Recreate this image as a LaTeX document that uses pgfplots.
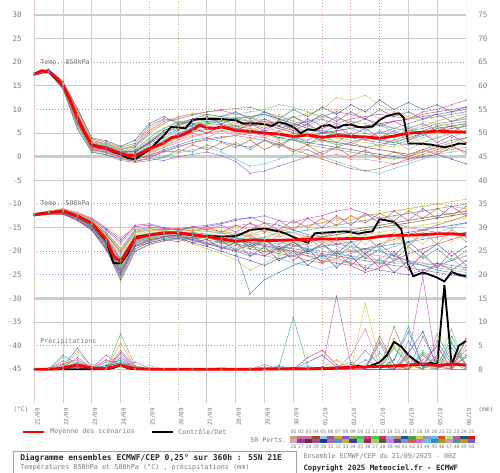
\documentclass[border=0pt]{standalone}
\usepackage{fontspec}
\setmainfont{DejaVu Sans Mono}
\usepackage{pgfplots}
\pgfplotsset{compat=1.18}
\usepackage{pgfplotstable}
\newcommand{\fs}[1]{\fontsize{#1}{#1}\selectfont}
\definecolor{gridgray}{RGB}{200,206,200}
\definecolor{txtgray}{RGB}{125,125,125}
\definecolor{dotpurple}{RGB}{175,140,190}
\definecolor{dotpink}{RGB}{240,160,160}
\definecolor{dotblue}{RGB}{140,150,235}
\definecolor{dotgreen}{RGB}{150,215,150}
\definecolor{m1}{RGB}{60,180,75}
\definecolor{m2}{RGB}{70,110,230}
\definecolor{m3}{RGB}{200,80,200}
\definecolor{m4}{RGB}{230,160,40}
\definecolor{m5}{RGB}{90,200,220}
\definecolor{m6}{RGB}{150,90,200}
\definecolor{m7}{RGB}{200,200,60}
\definecolor{m8}{RGB}{210,60,90}
\definecolor{m9}{RGB}{120,170,80}
\definecolor{m10}{RGB}{100,140,220}
\definecolor{m11}{RGB}{180,120,80}
\definecolor{m12}{RGB}{140,100,220}
\definecolor{m13}{RGB}{60,160,160}
\definecolor{m14}{RGB}{230,120,170}
\definecolor{m15}{RGB}{120,200,120}
\definecolor{m16}{RGB}{80,80,180}
\definecolor{m17}{RGB}{200,100,60}
\definecolor{m18}{RGB}{190,200,80}
\definecolor{m19}{RGB}{160,90,140}
\definecolor{m20}{RGB}{70,120,200}
\definecolor{m21}{RGB}{230,80,40}
\definecolor{m22}{RGB}{100,200,180}
\definecolor{m23}{RGB}{180,60,180}
\definecolor{m24}{RGB}{90,150,90}
\definecolor{m25}{RGB}{240,190,90}
\definecolor{m26}{RGB}{110,80,160}
\definecolor{m27}{RGB}{220,140,140}
\definecolor{m28}{RGB}{60,100,160}
\definecolor{m29}{RGB}{170,210,120}
\definecolor{m30}{RGB}{200,60,120}

% T850 members (degC)
\pgfplotstableread{
h a1 a2 a3 a4 a5 a6 a7 a8 a9 a10 a11 a12 a13 a14 a15 a16 a17 a18 a19 a20 a21 a22 a23 a24 a25 a26 a27 a28 a29 a30
0 17.5 17.4 17.6 17.5 17.3 17.7 17.5 17.4 17.6 17.5 17.5 17.3 17.6 17.4 17.5 17.6 17.5 17.4 17.3 17.6 17.4 17.6 17.5 17.3 17.6 17.5 17.4 17.7 17.5 17.4
12 18.2 18.0 18.4 18.1 17.9 18.5 18.2 18.0 18.3 18.1 18.4 17.8 18.2 18.0 18.3 18.1 18.2 17.9 18.0 18.4 18.0 18.3 18.1 17.9 18.4 18.2 18.0 18.5 18.1 18.0
24 15.0 14.6 15.5 15.2 14.4 15.8 14.9 15.1 15.4 14.7 15.6 14.3 15.2 14.8 15.3 15.0 14.5 15.7 14.9 15.1 14.7 15.4 15.0 14.4 15.6 15.1 14.6 15.9 15.2 14.8
36 8.5 7.2 9.6 8.0 6.5 10.0 7.8 8.8 9.1 7.0 9.4 5.8 8.2 7.5 9.0 8.3 6.8 9.8 7.6 8.6 7.0 9.2 8.0 6.0 9.6 8.4 7.2 10.2 8.6 7.4
48 2.5 1.8 3.2 2.2 1.2 3.8 2.0 2.8 3.0 1.6 3.4 1.0 2.4 1.9 2.9 2.6 1.4 3.5 2.1 2.7 1.5 3.0 2.2 0.9 3.6 2.6 1.7 4.0 2.8 2.0
60 1.9 1.2 2.6 1.5 0.8 3.0 1.6 2.2 2.4 1.0 2.8 0.5 1.8 1.3 2.3 2.0 0.9 2.7 1.4 2.1 1.0 2.5 1.7 0.4 3.2 2.2 1.0 3.4 2.4 1.5
72 0.6 0.2 1.5 0.4 -0.3 2.0 0.5 1.1 1.3 -0.1 1.7 -0.5 0.8 0.3 1.2 0.9 0.0 1.6 0.4 1.0 -0.2 1.4 0.5 -0.8 1.8 1.0 0.0 2.2 1.2 0.5
84 0.4 -0.6 2.2 0.1 -0.9 2.8 0.3 1.0 1.5 -0.4 2.0 -1.0 0.6 -0.2 1.3 0.8 -0.7 2.4 0.0 1.1 -1.0 2.5 0.2 -1.2 3.0 1.2 -0.5 3.5 1.8 0.3
96 2.5 0.2 5.5 1.0 -0.5 6.5 1.5 3.0 4.0 0.0 5.0 -0.4 2.0 0.8 3.5 2.8 0.4 6.0 1.2 3.2 -0.2 4.5 1.5 -0.8 5.8 3.0 0.5 7.0 3.8 1.5
108 4.0 1.5 7.5 2.5 0.0 8.0 3.0 5.0 6.0 1.0 7.0 -0.8 3.5 2.0 5.5 4.5 1.2 7.8 2.8 5.2 1.2 6.0 3.2 -0.2 7.0 5.5 2.0 8.5 5.0 3.0
120 5.5 2.5 8.0 3.5 0.8 7.5 4.5 6.5 7.2 2.0 8.5 0.0 5.0 3.0 6.8 5.8 2.2 8.2 4.0 6.0 1.0 7.5 4.8 1.5 6.0 6.8 3.5 7.0 6.5 4.5
132 6.8 3.5 8.8 4.5 1.5 7.0 5.5 7.8 8.0 3.0 9.0 0.5 6.2 4.2 7.5 6.5 3.0 9.2 5.2 7.0 2.5 6.5 6.0 1.0 7.5 7.5 5.0 8.0 5.5 6.0
144 7.2 4.0 9.5 5.0 2.0 6.5 6.0 8.2 7.5 3.5 9.5 1.0 7.0 5.0 8.0 7.0 3.8 8.8 5.8 7.5 1.5 8.0 5.0 2.5 6.5 8.5 4.0 9.0 7.0 5.0
156 7.8 3.2 9.8 5.5 1.0 6.0 6.5 8.5 7.0 4.0 10.0 0.2 7.5 5.5 8.5 6.8 4.2 8.0 6.2 7.8 3.0 7.0 6.5 1.5 8.0 7.0 5.5 8.5 6.0 6.5
168 6.5 2.5 9.0 6.0 -0.5 5.5 7.0 8.0 6.5 4.5 10.2 -1.0 8.0 5.0 9.0 6.0 4.5 7.5 6.5 8.2 2.0 8.5 5.5 3.0 7.0 8.0 4.5 9.5 7.5 5.5
180 5.0 2.0 8.5 6.5 -2.0 5.0 7.5 7.5 6.0 5.0 10.5 -3.5 8.5 4.5 9.5 5.5 4.0 7.0 7.0 8.5 3.5 7.5 7.0 1.5 8.5 6.5 6.0 8.0 5.5 7.0
192 5.5 3.5 7.0 7.0 -1.5 4.5 8.0 7.0 5.5 5.5 9.5 -3.0 9.0 4.0 10.0 5.0 3.5 6.5 7.5 9.0 1.5 9.0 6.0 3.5 7.0 8.0 4.0 9.5 7.0 5.5
204 4.0 2.5 7.5 6.5 -0.5 5.5 7.0 6.0 3.5 6.0 8.5 -2.0 8.0 3.0 11.0 4.0 2.5 7.5 6.5 8.0 3.0 7.5 7.5 2.0 9.0 6.5 5.5 8.0 5.0 7.5
216 4.5 4.0 6.0 5.0 0.5 6.5 6.0 5.0 3.5 7.0 7.5 -1.0 7.0 1.5 10.5 3.5 1.5 8.5 5.5 7.0 1.0 8.5 5.5 4.0 7.5 8.5 3.5 10.0 7.0 6.0
228 3.0 3.5 5.5 4.5 1.5 7.5 5.0 4.5 2.5 7.5 6.5 0.0 6.0 1.5 9.5 3.0 0.5 9.0 4.5 6.0 2.5 6.5 7.0 2.5 9.5 7.0 5.0 8.5 4.5 8.0
240 3.5 5.0 6.0 3.5 0.0 8.5 4.5 5.0 2.0 8.0 5.5 1.0 5.5 0.0 8.5 2.5 -0.5 10.0 3.5 5.0 0.5 8.0 5.0 4.5 8.0 9.0 3.0 10.5 6.5 6.5
252 2.5 5.5 7.0 3.0 -1.0 9.5 4.0 5.5 1.5 7.0 5.0 2.0 5.0 0.5 8.0 2.0 -1.5 12.5 3.0 4.5 2.0 6.0 6.5 3.0 10.0 7.5 4.5 9.0 4.0 8.5
264 3.0 6.0 8.0 2.5 -2.0 9.0 3.5 6.0 1.0 6.0 4.5 3.0 4.5 -0.5 7.5 1.5 -2.5 12.0 2.5 4.0 0.0 7.5 4.5 5.0 8.5 9.5 2.5 11.0 6.0 7.0
276 2.0 6.5 8.5 2.0 -3.0 8.0 3.0 6.5 0.5 5.0 4.0 4.0 4.0 -0.5 7.0 1.0 -3.0 13.0 2.0 3.5 1.5 5.5 6.0 3.5 10.0 8.0 4.0 9.5 3.5 8.0
288 2.5 7.0 9.0 1.5 -3.5 7.0 2.5 7.0 0.0 4.0 3.5 5.0 3.5 -1.0 6.5 0.5 -2.5 11.0 1.5 3.0 -0.5 7.0 4.0 5.5 8.0 10.0 2.0 12.0 5.5 6.5
300 3.5 7.5 8.5 1.0 -2.5 6.0 2.0 7.5 -0.5 3.0 3.0 6.0 3.0 -1.5 6.0 0.0 -1.5 9.5 1.0 2.5 1.0 5.0 5.5 4.0 9.5 8.5 3.5 10.0 3.0 7.5
312 4.5 8.0 8.0 0.5 -1.5 5.5 3.0 8.0 0.0 2.5 4.0 7.0 4.0 -1.0 5.5 -0.5 -0.5 8.5 0.5 3.5 0.0 6.5 3.5 6.0 8.0 9.5 1.5 11.5 5.0 6.0
324 5.5 8.5 9.5 1.0 -0.5 6.0 4.0 9.0 1.0 3.0 5.0 8.0 5.0 0.0 6.5 0.0 0.5 7.5 1.5 4.5 1.5 4.5 5.0 4.5 9.0 8.0 3.0 10.0 2.5 7.0
336 6.5 9.0 10.0 2.0 0.5 7.0 5.0 9.5 2.0 4.0 6.0 8.5 6.0 1.0 7.5 0.5 1.5 7.0 2.5 5.5 0.5 6.0 3.0 6.5 7.5 9.0 1.0 11.0 4.5 5.5
348 7.0 9.5 11.0 2.5 1.0 7.5 6.0 10.0 3.0 5.0 6.5 9.0 6.5 1.5 8.5 -0.5 2.5 6.5 3.5 6.0 2.0 4.0 4.5 5.0 8.5 7.5 2.5 9.5 2.0 6.5
360 7.5 10.0 12.0 3.0 1.5 8.0 6.5 10.5 4.0 5.5 7.0 9.5 7.0 2.0 9.0 -1.5 3.0 6.0 4.0 6.5 1.0 5.5 3.0 7.0 7.0 8.5 0.5 10.5 4.0 5.0
}\tA

% T500 members (degC)
\pgfplotstableread{
h b1 b2 b3 b4 b5 b6 b7 b8 b9 b10 b11 b12 b13 b14 b15 b16 b17 b18 b19 b20 b21 b22 b23 b24 b25 b26 b27 b28 b29 b30
0 -12.3 -12.1 -12.4 -12.2 -12.3 -12.0 -12.5 -12.2 -12.3 -12.1 -12.4 -12.2 -12.3 -12.1 -12.2 -12.4 -12.3 -12.0 -12.2 -12.3 -12.2 -12.4 -12.1 -12.3 -12.0 -12.4 -12.2 -12.3 -12.1 -12.5
12 -11.9 -11.6 -12.1 -11.8 -11.9 -11.5 -12.2 -11.8 -11.9 -11.7 -12.0 -11.8 -11.9 -11.6 -11.8 -12.0 -11.9 -11.5 -11.8 -11.9 -11.8 -12.0 -11.6 -11.9 -11.5 -12.1 -11.8 -11.9 -11.7 -12.2
24 -11.6 -11.2 -12.0 -11.4 -11.8 -11.0 -12.2 -11.5 -11.7 -11.3 -11.9 -11.6 -11.5 -11.1 -11.6 -12.1 -11.7 -11.2 -11.4 -11.8 -11.4 -11.9 -11.1 -11.7 -11.0 -12.0 -11.5 -11.8 -11.3 -12.2
36 -12.8 -12.2 -13.2 -12.4 -13.0 -11.8 -13.5 -12.6 -12.9 -12.3 -13.1 -12.7 -12.5 -12.0 -12.8 -13.4 -12.9 -12.1 -12.5 -13.0 -12.3 -13.1 -12.0 -12.8 -11.9 -13.3 -12.6 -12.9 -12.2 -13.5
48 -14.5 -13.5 -15.2 -13.8 -14.8 -13.0 -15.5 -14.2 -14.6 -13.6 -15.0 -14.3 -14.0 -13.2 -14.4 -15.3 -14.7 -13.4 -14.1 -14.9 -13.8 -15.1 -13.2 -14.5 -13.0 -15.4 -14.2 -14.8 -13.6 -15.6
60 -18.0 -16.0 -19.0 -16.8 -18.5 -15.2 -19.5 -17.5 -18.2 -16.4 -18.8 -17.8 -17.0 -15.5 -17.6 -19.2 -18.3 -16.2 -17.2 -18.6 -16.5 -19.0 -15.5 -18.0 -15.0 -19.5 -17.5 -18.5 -16.2 -19.8
72 -23.0 -19.5 -25.0 -21.0 -24.0 -17.5 -26.5 -22.0 -23.5 -20.5 -24.5 -22.5 -21.5 -18.5 -22.8 -25.5 -23.8 -20.0 -21.8 -24.2 -20.0 -25.5 -18.0 -23.0 -17.0 -26.0 -22.0 -24.5 -19.5 -25.0
84 -17.5 -15.5 -19.0 -16.5 -18.2 -14.8 -20.0 -17.2 -18.0 -16.0 -18.5 -17.8 -16.8 -15.0 -17.0 -19.5 -18.3 -16.2 -17.4 -18.8 -15.8 -19.5 -14.5 -18.0 -15.0 -20.0 -17.0 -18.8 -16.0 -19.0
96 -16.8 -15.0 -17.8 -15.8 -17.2 -14.5 -18.8 -16.5 -17.0 -15.5 -17.5 -16.8 -16.2 -14.8 -16.4 -18.2 -17.4 -15.6 -16.6 -17.8 -15.2 -18.0 -14.2 -17.2 -15.5 -18.5 -16.5 -17.6 -15.2 -18.2
108 -16.3 -15.2 -17.0 -15.5 -16.8 -15.0 -17.8 -16.0 -16.5 -15.3 -17.0 -16.4 -15.8 -15.2 -16.2 -17.5 -16.8 -15.6 -16.0 -17.2 -15.5 -17.2 -15.0 -16.5 -15.8 -17.8 -16.0 -17.0 -15.6 -17.5
120 -16.2 -15.5 -16.8 -15.4 -16.6 -15.2 -17.5 -16.0 -16.3 -15.6 -16.9 -16.2 -15.9 -15.4 -16.1 -17.2 -16.6 -15.8 -16.0 -17.0 -15.2 -17.6 -15.5 -16.8 -15.0 -17.2 -16.5 -16.5 -16.0 -18.0
132 -16.8 -15.0 -17.5 -15.2 -17.2 -14.8 -18.5 -16.2 -16.8 -15.5 -17.8 -16.6 -16.0 -15.0 -16.5 -18.2 -17.0 -15.6 -16.3 -17.6 -15.8 -16.8 -14.8 -17.5 -15.8 -18.2 -15.8 -17.5 -15.2 -17.0
144 -17.2 -14.8 -18.2 -15.5 -18.0 -14.5 -19.5 -16.8 -17.2 -15.8 -18.5 -17.0 -16.4 -15.2 -17.0 -19.0 -17.6 -15.8 -16.8 -18.4 -14.8 -18.5 -15.5 -16.5 -15.0 -17.5 -17.0 -16.8 -16.5 -18.8
156 -17.8 -14.2 -19.0 -15.8 -18.8 -14.0 -20.5 -17.2 -17.8 -16.2 -19.2 -17.4 -16.8 -15.0 -17.5 -20.0 -18.2 -16.0 -17.2 -19.2 -16.0 -17.5 -14.5 -18.5 -16.2 -19.5 -16.0 -18.0 -15.5 -17.8
168 -18.5 -13.5 -19.8 -16.2 -19.5 -13.2 -21.8 -17.8 -18.4 -16.5 -20.0 -17.8 -17.2 -14.6 -18.0 -21.0 -18.8 -16.4 -17.6 -20.0 -14.5 -19.5 -16.0 -17.0 -15.0 -18.0 -18.0 -17.0 -17.0 -19.8
180 -19.0 -12.8 -20.5 -16.5 -20.2 -13.0 -24.0 -18.2 -19.0 -17.0 -21.0 -18.2 -17.5 -14.2 -18.5 -22.0 -19.5 -16.8 -18.0 -29.0 -15.5 -18.0 -14.0 -19.5 -16.5 -21.0 -16.5 -19.0 -15.8 -18.5
192 -19.5 -14.0 -21.0 -15.5 -21.0 -12.5 -22.5 -18.8 -18.0 -17.5 -20.0 -18.8 -17.0 -15.0 -19.0 -23.0 -20.0 -16.2 -18.5 -26.0 -14.0 -20.5 -16.0 -17.5 -15.5 -19.0 -18.5 -17.5 -17.5 -21.0
204 -20.5 -14.5 -19.5 -16.0 -21.5 -13.5 -21.0 -19.5 -18.5 -18.0 -19.5 -19.5 -16.0 -15.5 -19.8 -21.5 -20.5 -15.5 -19.0 -24.5 -15.5 -18.5 -13.5 -20.0 -17.0 -22.0 -16.5 -19.5 -16.0 -19.0
216 -19.0 -15.5 -19.0 -15.0 -22.5 -14.0 -20.0 -20.0 -17.5 -18.8 -18.5 -20.0 -16.0 -16.0 -20.5 -21.0 -21.0 -15.0 -19.5 -23.0 -13.5 -21.0 -15.5 -18.0 -16.0 -20.0 -19.0 -18.0 -18.0 -22.0
228 -18.0 -16.5 -18.5 -14.5 -23.0 -13.0 -19.0 -21.0 -17.0 -19.5 -17.5 -20.5 -15.5 -17.0 -21.0 -20.0 -22.0 -14.5 -20.0 -22.0 -15.0 -19.0 -13.0 -20.5 -17.5 -23.0 -17.0 -20.0 -16.5 -19.5
240 -17.0 -17.0 -17.0 -14.0 -24.0 -12.5 -18.0 -22.0 -16.5 -20.0 -17.0 -21.0 -15.0 -18.0 -21.5 -19.0 -22.5 -14.0 -20.5 -21.0 -13.0 -21.5 -15.0 -18.5 -16.0 -20.5 -19.5 -18.5 -18.5 -22.5
252 -16.5 -18.5 -16.0 -13.0 -23.0 -11.5 -17.5 -22.5 -16.0 -20.5 -16.5 -21.5 -14.5 -19.0 -22.0 -18.5 -21.5 -13.5 -21.0 -20.5 -14.5 -19.5 -12.5 -21.0 -18.0 -23.5 -17.5 -20.5 -17.0 -20.0
264 -16.0 -19.0 -15.5 -13.5 -22.0 -11.0 -17.0 -23.0 -15.5 -21.0 -16.0 -22.5 -14.0 -20.0 -22.5 -18.0 -20.5 -13.0 -21.5 -20.0 -12.5 -22.0 -14.5 -19.0 -16.5 -21.0 -20.0 -18.0 -19.0 -23.0
276 -15.5 -19.5 -15.0 -12.5 -21.0 -12.0 -16.5 -24.5 -15.0 -21.5 -15.5 -23.5 -13.5 -20.5 -23.0 -17.5 -19.5 -12.5 -22.0 -19.5 -14.0 -20.0 -12.0 -21.5 -18.5 -24.0 -17.0 -20.5 -16.5 -20.5
288 -15.0 -20.0 -14.5 -12.0 -20.0 -13.0 -16.0 -23.5 -14.5 -22.0 -15.0 -24.0 -13.0 -21.0 -22.5 -17.0 -18.5 -12.0 -22.5 -19.0 -12.0 -22.5 -14.0 -19.5 -16.0 -21.5 -19.5 -18.5 -19.5 -23.5
300 -14.5 -21.0 -14.0 -11.5 -19.0 -14.0 -15.5 -22.0 -14.0 -22.5 -14.5 -24.5 -12.5 -21.5 -22.0 -16.5 -17.5 -11.5 -23.0 -18.5 -13.5 -20.5 -11.5 -22.0 -18.0 -24.5 -16.5 -21.0 -16.0 -20.0
312 -14.0 -22.0 -13.5 -11.0 -18.0 -15.0 -15.0 -20.5 -13.5 -22.5 -14.0 -25.0 -12.0 -22.0 -22.5 -16.0 -16.5 -11.0 -23.5 -18.0 -11.5 -23.0 -13.5 -19.0 -16.5 -22.0 -19.0 -18.0 -19.0 -24.0
324 -13.5 -23.0 -13.0 -10.5 -17.0 -15.5 -14.5 -19.5 -13.0 -23.0 -13.5 -24.0 -11.5 -22.5 -23.0 -15.5 -15.5 -10.5 -24.0 -17.5 -13.0 -21.0 -11.0 -21.5 -18.5 -25.0 -16.0 -20.5 -15.5 -20.5
336 -13.0 -24.0 -12.5 -10.0 -16.0 -16.0 -14.0 -18.5 -12.5 -22.5 -13.0 -23.0 -11.0 -23.0 -23.5 -15.0 -14.5 -10.0 -24.5 -17.0 -11.0 -23.5 -13.0 -19.5 -16.0 -22.5 -18.5 -18.5 -18.5 -23.5
348 -12.5 -24.5 -12.0 -10.5 -15.0 -16.5 -13.5 -17.5 -12.0 -23.0 -12.5 -22.0 -10.5 -23.5 -24.0 -14.5 -13.5 -9.5 -25.0 -16.5 -12.5 -21.5 -10.5 -22.0 -18.0 -24.0 -15.5 -21.0 -15.0 -20.0
360 -12.0 -25.0 -11.5 -11.0 -14.0 -17.0 -13.0 -16.5 -11.5 -23.5 -12.0 -21.0 -10.0 -24.0 -24.5 -14.0 -12.5 -9.0 -25.5 -16.0 -10.5 -24.0 -12.5 -20.0 -16.5 -22.0 -18.0 -19.0 -18.0 -23.0
}\tB

% precipitation members (mm)
\pgfplotstableread{
h p1 p2 p3 p4 p5 p6 p7 p8 p9 p10 p11 p12 p13 p14 p15 p16
0 0 0 0 0 0 0 0 0 0 0 0 0 0 0 0 0
12 0 0 0.3 0 0 0 0 0 0.2 0 0 0 0 0 0 0
24 3.0 0.5 1.2 0 2.5 0.3 0 1.0 0.2 0 1.8 0.4 0 0.6 0 0.2
36 1.0 4.5 2.0 0.8 0.5 1.5 3.8 0.4 1.2 0.6 0.3 2.5 0.9 0.2 1.6 0.5
48 0.2 0.5 0.3 1.0 0 0.2 0.4 0.1 0.5 0 0.2 0.3 0.1 0 0.4 0.1
60 0.5 0 3.0 0.2 1.0 0 0.3 2.0 0 0.5 0 0.2 1.5 0.3 0 0.8
72 1.5 2.5 0.8 5.5 1.2 3.5 0.6 1.0 7.5 2.0 4.0 0.8 1.8 3.0 0.5 1.2
84 0.3 0.2 1.5 0.5 0.1 0.3 0 0.4 0.8 0.2 0.6 0 0.2 0.1 0 0.3
96 0 0 0.2 0 0 0 0 0 0.1 0 0 0 0 0 0.8 0
108 0 0 0 0 0 0 0 0 0 0 0 0 0 0 0 0
120 0 0 0 0 0 0 0 0 0 0 0 0 0 0 0 0
132 0 0 0 0 0 0 0 0 0 0 0 0 0 0 0 0
144 0 0 0 0 0 0 0 0 0 0 0 0 0 0 0 0
156 0 0 0 0 0 0 0 0 0 0 0 0 0 0 0 0
168 0 0 0 0 0 0 0 0 0 0 0 0 0 0 0 0
180 0 0 0 0 0.3 0 0 0 0 0 0 0 0 0 0 0
192 0 0 0.5 0 0 0 0 0 0 0 1.0 0 0 0 0 0.2
204 0 0.8 0 0.2 0 0 0 0 0 0 0 0 0.5 0 0 0
216 0 0 0 0 0 0 0 0 0 0 0 0 11.0 0.5 0 0
228 0 1.5 0 0 0.8 0 0 2.5 0 0 0 0 0.5 0 0 0
240 0 3.0 0 0.5 0 0 0 4.0 0 0 0 0 0 0 0 0.5
252 0.5 0.5 0 2.0 0 15.5 0 1.0 0 0 0 0 0 0 0 0
264 1.5 0 0.5 0 0 1.0 0 0 0 0 0 0 0 3.0 0 1.0
276 0 0 4.0 0 1.0 0 14.0 0 0 2.0 0 0 0 8.5 0 0
288 6.0 0 1.0 0 3.5 0 2.0 7.0 0 0.5 0 5.5 0 1.0 0 0
300 1.0 2.0 0 6.5 0 0 0.5 1.0 4.5 0 9.0 0 2.0 0 5.0 0
312 0 8.0 3.0 1.0 0 2.5 0 0 1.0 6.0 1.5 0 9.0 0.5 1.0 3.5
324 3.5 1.0 19.5 0 4.0 0 1.5 3.0 0 1.0 0 7.0 0.5 2.0 0 8.0
336 0.5 5.0 0 2.5 1.0 6.0 0 0.5 7.5 0 3.0 1.0 0 5.0 2.0 0.5
348 7.0 0 2.0 0 6.0 1.0 3.5 0 1.5 4.5 0.5 0 5.5 0 8.5 1.0
360 1.0 3.0 0.5 5.0 0 4.0 0 6.5 0 1.0 2.5 0 1.0 3.0 0 6.0
}\tP

% ensemble mean / control, T850
\pgfplotstableread{
h v
0 17.5
6 18.2
12 18.0
18 16.8
24 15.0
30 12.0
36 8.3
42 5.2
48 2.6
54 2.1
60 1.8
66 1.2
72 0.7
78 0.3
84 0.2
90 0.9
96 1.8
102 2.3
108 2.9
114 4.0
120 4.3
126 4.9
132 5.7
138 6.7
144 6.1
150 6.0
156 6.3
162 6.0
168 5.5
180 5.4
192 5.0
204 4.8
216 4.3
228 4.6
240 4.1
252 4.5
264 4.3
276 4.2
288 3.9
300 4.4
312 5.0
324 5.2
336 5.4
348 5.3
360 5.2
}\mA
\pgfplotstableread{
h v
0 17.5
6 18.2
12 18.0
18 16.5
24 15.0
30 12.0
36 8.2
42 5.0
48 2.5
54 2.0
60 1.8
66 1.0
72 0.5
78 -0.3
84 -0.5
90 0.5
96 1.5
102 3.0
108 4.5
114 6.3
120 6.2
126 6.0
132 7.8
138 8.0
144 8.0
156 8.0
168 7.7
174 7.0
180 7.1
192 6.9
198 6.5
204 7.3
210 7.0
216 6.3
222 5.0
228 5.8
234 5.6
240 6.5
246 6.7
252 6.0
258 6.7
264 6.8
270 6.3
276 6.2
282 6.4
288 7.8
294 8.6
300 9.0
304 9.2
308 8.3
312 2.8
318 2.8
324 2.7
330 2.6
336 2.3
342 2.0
348 2.3
354 2.8
360 2.7
}\cA
% mean / control T500
\pgfplotstableread{
h v
0 -12.3
12 -11.9
24 -11.5
36 -12.6
48 -14.1
60 -17.5
66 -21.0
72 -22.2
78 -19.7
84 -17.3
96 -16.6
108 -16.1
120 -16.1
132 -16.5
144 -16.9
156 -17.4
168 -17.9
180 -17.6
192 -17.7
204 -17.7
216 -17.6
228 -17.5
240 -17.4
252 -17.4
264 -17.3
276 -17.3
288 -16.9
300 -16.6
312 -16.6
324 -16.5
336 -16.3
348 -16.3
360 -16.5
}\mB
\pgfplotstableread{
h v
0 -12.2
12 -11.8
24 -11.5
36 -12.5
48 -14.0
54 -16.0
60 -17.8
66 -22.5
72 -22.6
78 -20.5
84 -17.0
96 -16.5
108 -16.2
120 -16.2
132 -16.6
144 -16.8
156 -16.9
168 -16.8
174 -16.2
180 -15.5
192 -15.2
204 -15.8
210 -16.3
216 -17.0
222 -17.6
228 -18.2
234 -16.2
246 -16.0
258 -15.8
264 -16.0
270 -16.3
276 -16.0
282 -15.8
288 -13.2
294 -13.5
300 -13.8
306 -15.3
312 -23.0
316 -25.3
324 -24.5
330 -25.0
336 -25.6
342 -26.4
348 -24.4
354 -25.0
360 -25.3
}\cB
% mean / control precipitation (mm)
\pgfplotstableread{
h v
0 0
12 0
18 0.1
24 0.35
30 0.6
36 0.9
42 0.6
48 0.3
54 0.15
60 0.2
66 0.5
72 0.9
78 0.4
84 0.15
96 0.05
108 0
144 0
156 0.05
168 0
192 0.05
204 0.1
216 0.15
228 0.1
240 0.2
252 0.3
264 0.4
276 0.5
288 0.6
300 0.7
312 0.9
324 1.1
336 0.8
348 1.1
360 0.9
}\mP
\pgfplotstableread{
h v
0 0
60 0
66 0.3
72 1.0
78 0.2
84 0
240 0
252 0.2
264 0.3
270 0.7
276 0.4
282 0.9
288 1.5
294 3.0
300 5.8
306 4.8
312 3.0
318 1.8
324 0.8
330 1.4
336 1.0
342 17.8
348 1.0
354 5.0
360 6.0
}\cP

\pgfplotsset{
  mem/.style={line width=0.35pt, mark=*, mark size=0.35pt, opacity=0.9},
  baseax/.style={
    at={(25.725pt,-302.25pt)}, anchor=south west, scale only axis,
    width=323.775pt, height=302.25pt,
    xmin=0, xmax=360, ymin=-52.13, ymax=33.18,
    axis line style={draw=none}, major tick length=0pt,
    ytick={-45,-40,...,30},
    ticklabel style={font=\fs{5.6}, text=txtgray},
  }
}

\begin{document}
\begin{tikzpicture}
\fill[white] (0,0) rectangle (375pt,-354.75pt);
\useasboundingbox (0,0) rectangle (375pt,-354.75pt);
\begin{axis}[baseax,
  axis y line*=left, axis x line*=bottom,
  yticklabels={-45,-40,-35,-30,-25,-20,-15,-10,-5,0,5,10,15,20,25,30},
  yticklabel style={anchor=east, inner sep=0pt, xshift=-9.4pt},
  xtick={0,24,...,360},
  xticklabels={21/09,22/09,23/09,24/09,25/09,26/09,27/09,28/09,29/09,30/09,01/10,02/10,03/10,04/10,05/10,06/10},
  xticklabel style={xshift=2.5pt, rotate=90, anchor=east, inner sep=0pt, font=\fs{4.4}},
  xticklabel shift=3.8pt,
]
% horizontal grid
\pgfplotsinvokeforeach{25,15,5,-5,-15,-35,-45}{\draw[gridgray, line width=0.75pt] (axis cs:0,#1) -- (axis cs:360,#1);}
\pgfplotsinvokeforeach{30,0,-30}{\draw[gridgray, line width=1.9pt] (axis cs:0,#1) -- (axis cs:360,#1);}
\pgfplotsinvokeforeach{20,10,-10,-20,-40}{\draw[dotpurple, line width=0.75pt, dash pattern=on 0.75pt off 1.5pt] (axis cs:0,#1) -- (axis cs:360,#1);}
\draw[dotblue, line width=0.75pt, dash pattern=on 0.75pt off 1.5pt] (axis cs:0,-25) -- (axis cs:360,-25);
% vertical grid
\pgfplotsinvokeforeach{0,24,48,72,144,168,192,216,312,336,360}{\draw[gridgray, line width=0.75pt] (axis cs:#1,-52.13) -- (axis cs:#1,33.18);}
\draw[dotpink, line width=0.75pt, dash pattern=on 0.75pt off 1.5pt] (axis cs:0,-52.13) -- (axis cs:0,33.18);
\draw[dotpink, line width=0.75pt, dash pattern=on 0.75pt off 3pt] (axis cs:96,-52.13) -- (axis cs:96,33.18);
\draw[dotgreen, line width=0.75pt, dash pattern=on 0.75pt off 3pt, dash phase=1.5pt] (axis cs:96,-52.13) -- (axis cs:96,33.18);
\draw[dotgreen, line width=0.75pt, dash pattern=on 0.75pt off 3pt] (axis cs:120,-52.13) -- (axis cs:120,33.18);
\draw[dotpink, line width=0.75pt, dash pattern=on 0.75pt off 3pt, dash phase=1.5pt] (axis cs:120,-52.13) -- (axis cs:120,33.18);
\draw[dotpink, line width=0.75pt, dash pattern=on 0.75pt off 1.5pt] (axis cs:240,-52.13) -- (axis cs:240,33.18);
\draw[dotpink, line width=0.75pt, dash pattern=on 0.75pt off 1.5pt] (axis cs:264,-52.13) -- (axis cs:264,33.18);
\draw[dotblue, line width=0.75pt, dash pattern=on 0.75pt off 1.5pt] (axis cs:288,-52.13) -- (axis cs:288,33.18);
% members
\pgfplotsinvokeforeach{1,...,30}{\addplot[mem, color=m#1] table[x index=0, y index=#1]{\tA};}
\pgfplotsinvokeforeach{1,...,30}{\addplot[mem, color=m#1] table[x index=0, y index=#1]{\tB};}
\pgfplotsinvokeforeach{1,...,16}{\addplot[mem, color=m#1] table[x index=0, y expr=\thisrowno{#1}-45]{\tP};}
% control
\addplot[black, line width=1.4pt, no markers] table[x=h, y=v]{\cA};
\addplot[black, line width=1.4pt, no markers] table[x=h, y=v]{\cB};
\addplot[black, line width=1.4pt, no markers] table[x=h, y expr=\thisrow{v}-45]{\cP};
% mean
\addplot[red, line width=2.1pt, no markers] table[x=h, y=v]{\mA};
\addplot[red, line width=2.1pt, no markers] table[x=h, y=v]{\mB};
\addplot[red, line width=2.1pt, no markers] table[x=h, y expr=\thisrow{v}-45]{\mP};
\end{axis}
\begin{axis}[baseax, hide x axis, axis y line*=right,
  yticklabels={0,5,10,15,20,25,30,35,40,45,50,55,60,65,70,75},
  yticklabel style={anchor=west, inner sep=0pt, xshift=9pt},
]
\end{axis}
\begin{scope}[x=0.75pt, y=-0.75pt]
\node[anchor=west, inner sep=0pt, font=\fs{5}, text=txtgray] at (40,62.5) {Temp. 850hPa};
\node[anchor=west, inner sep=0pt, font=\fs{5}, text=txtgray] at (40,203.5) {Temp. 500hPa};
\node[anchor=west, inner sep=0pt, font=\fs{5}, text=txtgray] at (40,342) {Précipitations};
\node[anchor=west, inner sep=0pt, font=\fs{4.7}, text=txtgray] at (13,410) {(°C)};
\node[anchor=west, inner sep=0pt, font=\fs{4.7}, text=txtgray] at (478,410) {(mm)};
% legend
\draw[red, line width=1.6pt] (23,431.7) -- (44,431.7);
\node[anchor=west, inner sep=0pt, font=\fs{5}, text=txtgray] at (50,431.7) {Moyenne des scénarios};
\draw[black, line width=1.6pt] (152,431.7) -- (173,431.7);
\node[anchor=west, inner sep=0pt, font=\fs{5}, text=txtgray] at (178,431.7) {Contrôle/Det};
\node[anchor=west, inner sep=0pt, font=\fs{5}, text=txtgray] at (250,440.5) {50 Perts.};
\foreach \i/\ca/\cb [count=\k from 0] in {01/C8A078/E0A0C0,02/C070B0/904090,03/D07090/802040,04/A04828/9050A0,05/90C8E8/203890,06/8858B8/C060A0,07/C8A838/5090D0,08/9850C8/C0B040,09/80B050/4040A0,10/40C070/78D078,11/D04878/A02050,12/50C850/A0D060,13/E02868/506030,14/A8A8E0/C080E0,15/B89868/6040A0,16/2848C8/60A0C0,17/48A048/D06060,18/C8D040/E060E0,19/8898C8/70C0E0,20/48C8E8/4080E0,21/E05028/A0A020,22/A8E888/E090C0,23/C850C8/40A080,24/285858/C09040,25/C81828/7060C0}{
  \definecolor{sa}{HTML}{\ca}\definecolor{sb}{HTML}{\cb}
  \fill[sa] ({290+7.4*\k},435.7) rectangle ++(7.4,3.8);
  \fill[sb] ({290+7.4*\k},439.5) rectangle ++(7.4,3.8);
  \node[inner sep=0pt, font=\fs{3.6}, text=txtgray] at ({293.7+7.4*\k},432.2) {\i};
  \node[inner sep=0pt, font=\fs{3.6}, text=txtgray] at ({293.7+7.4*\k},446.8) {\number\numexpr\k+26\relax};
}
% footer
\draw[gridgray!80!black, line width=0.6pt] (13.3,451.5) rectangle (296.7,480);
\node[anchor=west, inner sep=0pt, font=\fs{6}\bfseries, text=black!85] at (20,457.7) {Diagramme ensembles ECMWF/CEP 0,25° sur 360h : 55N 21E};
\node[anchor=west, inner sep=0pt, font=\fs{5.1}, text=txtgray] at (20,467.5) {Températures 850hPa et 500hPa (°C) , précipitations (mm)};
\node[anchor=west, inner sep=0pt, font=\fs{5}, text=txtgray] at (303.3,456.7) {Ensemble ECMWF/CEP du 21/09/2025 - 00Z};
\node[anchor=west, inner sep=0pt, font=\fs{5.5}\bfseries, text=black!85] at (303.3,468.3) {Copyright 2025 Meteociel.fr - ECMWF};
\end{scope}
\end{tikzpicture}
\end{document}
